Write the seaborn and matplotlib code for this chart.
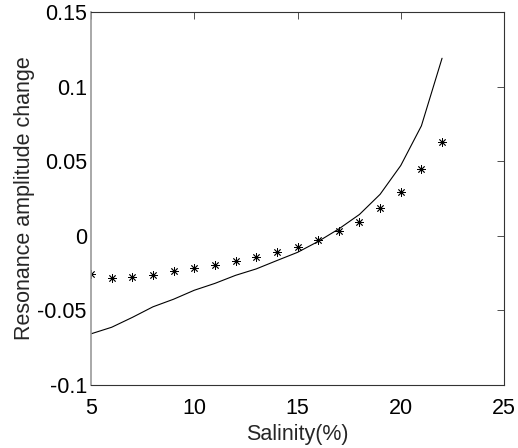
import numpy as np
import pandas as pd
import matplotlib
matplotlib.use("Agg")
import matplotlib.pyplot as plt
import seaborn as sns

# salinity values (%)
salinity = [5, 6, 7, 8, 9, 10, 11, 12, 13, 14, 15, 16, 17, 18, 19, 20, 21, 22]

# simulated curve (line)
simulated = [-0.0657, -0.0613, -0.0547, -0.0476, -0.0425, -0.0365, -0.0319,
             -0.0265, -0.0222, -0.0166, -0.0111, -0.0038, 0.0046, 0.0143,
             0.0278, 0.0471, 0.0737, 0.119]

# measured points (stars)
measured = [-0.0259, -0.0281, -0.0279, -0.0261, -0.0239, -0.0219, -0.0199,
            -0.0171, -0.0144, -0.0109, -0.0076, -0.0031, 0.0029, 0.0095,
            0.0188, 0.0294, 0.0447, 0.0632]

xticks = [5, 10, 15, 20, 25]
yticks = [-0.1, -0.05, 0, 0.05, 0.1, 0.15]
ytick_labels = ["-0.1", "-0.05", "0", "0.05", "0.1", "0.15"]

df = pd.DataFrame({"salinity": salinity, "simulated": simulated, "measured": measured})

sns.set_style("white")
plt.rcParams['font.family'] = ['Liberation Sans', 'DejaVu Sans']

fig = plt.figure(figsize=(5.18, 4.48), dpi=100)
ax = fig.add_axes([91 / 518, 1 - 385 / 448, 413 / 518, 373 / 448])

sns.lineplot(data=df, x="salinity", y="simulated", ax=ax, color="black", linewidth=0.8)
sns.scatterplot(data=df, x="salinity", y="measured", ax=ax, color="black",
                marker=(8, 2, 0), s=32, linewidth=0.6)

ax.set_xlim(5, 25)
ax.set_ylim(-0.1, 0.15)
ax.set_xticks(xticks)
ax.set_yticks(yticks)
ax.set_yticklabels(ytick_labels)
ax.tick_params(direction="in", length=5, width=0.6, labelsize=15.5,
               top=True, right=True, colors="#333333", labelcolor="black")
ax.tick_params(axis="x", pad=9)
ax.tick_params(axis="y", pad=3)
for s in ax.spines.values():
    s.set_color("#333333")
    s.set_linewidth(0.8)
ax.spines["left"].set_color("#999999")
ax.spines["left"].set_linewidth(1.2)

ax.set_xlabel("Salinity(%)", fontsize=15.5, labelpad=4)
ax.set_ylabel("Resonance amplitude change", fontsize=15.5, labelpad=2)

fig.savefig("out.png", dpi=100)
